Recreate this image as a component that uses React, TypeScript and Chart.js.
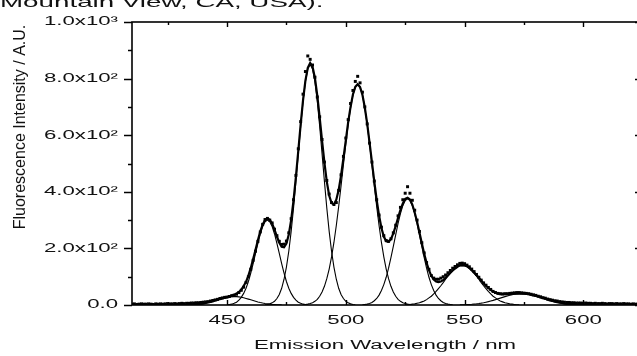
import React, { useEffect, useRef } from 'react';
import { Chart, registerables } from 'chart.js';

Chart.register(...registerables);

// ---- axis values ----
const X_MIN = 410;
const X_MAX = 623;
const X_TICKS = [450, 500, 550, 600];
const X_MINOR_TICKS = [425, 475, 525, 575];
const Y_MIN = 0;
const Y_MAX = 1000;
const Y_TICKS = [0, 200, 400, 600, 800, 1000];
const Y_TICK_LABELS = ['0.0', '2.0x10²', '4.0x10²', '6.0x10²', '8.0x10²', '1.0x10³'];
const Y_MINOR_TICKS = [100, 300, 500, 700, 900];

const X_TITLE = 'Emission Wavelength / nm';
const Y_TITLE = 'Fluorescence Intensity / A.U.';
const CAPTION = 'Mountain View, CA, USA).';

// ---- measured spectrum (1 nm steps from 410 nm) ----
const MEASURED_START = 410;
const MEASURED = [
  3, 4, 2, 3, 4, 3, 3, 4, 3, 2,
  4, 3, 4, 3, 4, 5, 4, 4, 5, 4,
  5, 6, 5, 6, 6, 7, 7, 8, 8, 9,
  10, 11, 12, 14, 16, 18, 20, 23, 25, 27,
  28, 30, 33, 35, 38, 44, 52, 63, 80, 100,
  126, 158, 190, 225, 258, 285, 302, 306, 300, 290,
  268, 245, 225, 214, 215, 226, 255, 305, 372, 458,
  552, 648, 745, 825, 880, 868, 848, 805, 735, 665,
  585, 505, 440, 392, 362, 355, 362, 405, 460, 525,
  590, 655, 712, 758, 790, 808, 785, 752, 700, 640,
  572, 505, 438, 372, 318, 275, 245, 228, 225, 234,
  255, 282, 315, 345, 372, 395, 418, 395, 370, 335,
  300, 260, 220, 184, 150, 126, 104, 95, 91, 91,
  95, 100, 106, 114, 122, 130, 136, 142, 147, 148,
  146, 141, 135, 127, 118, 108, 98, 88, 78, 70,
  62, 55, 48, 44, 41, 40, 39, 40, 40, 41,
  42, 43, 44, 44, 43, 42, 41, 40, 38, 36,
  34, 31, 29, 26, 24, 21, 19, 17, 15, 14,
  12, 11, 10, 9, 9, 8, 8, 7, 7, 7,
  6, 7, 6, 6, 5, 6, 5, 5, 6, 5,
  4, 5, 5, 4, 5, 4, 4, 5, 4, 4,
  3, 4, 3, 3,
];

// ---- overall fit (1 nm steps from 410 nm) ----
const FIT_START = 410;
const FIT = [
  0, 0, 0, 0, 0, 0, 0, 0, 0, 0,
  0, 0, 0, 0, 0, 0, 0, 0, 0, 0,
  0, 0, 0, 1, 1, 1, 2, 2, 3, 4,
  5, 7, 9, 11, 13, 16, 18, 21, 23, 26,
  28, 31, 33, 36, 40, 46, 54, 67, 82, 104,
  131, 162, 195, 229, 260, 284, 300, 306, 301, 287,
  266, 242, 220, 206, 204, 217, 249, 301, 370, 454,
  545, 638, 724, 793, 838, 855, 842, 802, 740, 663,
  581, 503, 436, 387, 360, 355, 372, 407, 458, 519,
  582, 646, 700, 744, 771, 780, 770, 743, 698, 641,
  574, 505, 436, 371, 316, 272, 242, 225, 223, 233,
  253, 279, 308, 336, 359, 375, 379, 373, 355, 327,
  294, 256, 218, 181, 149, 123, 103, 90, 83, 81,
  83, 88, 96, 105, 114, 122, 129, 135, 140, 141,
  140, 137, 131, 124, 115, 106, 96, 86, 76, 68,
  60, 53, 47, 44, 41, 38, 38, 38, 38, 38,
  39, 40, 40, 41, 40, 40, 39, 38, 36, 34,
  32, 30, 27, 24, 22, 19, 16, 14, 12, 10,
  8, 7, 5, 4, 3, 3, 2, 2, 1, 1,
  1, 0, 0, 0, 0, 0, 0, 0, 0, 0,
  0, 0, 0, 0, 0, 0, 0, 0, 0, 0,
  0, 0, 0, 0,
];

// ---- fitted component bands (1 nm steps) ----
const BAND1_START = 433;
const BAND1 = [0.5, 0.8, 1.1, 1.6, 2.2, 3.0, 4.1, 5.3, 6.9, 8.7, 10.8, 13.1, 15.6, 18.2, 20.8, 23.2, 25.5, 27.4, 28.8, 29.7, 30, 29.7, 28.8, 27.4, 25.5, 23.2, 20.8, 18.2, 15.6, 13.1, 10.8, 8.7, 6.9, 5.3, 4.1, 3.0, 2.2, 1.6, 1.1, 0.8, 0.5];
const BAND2_START = 450;
const BAND2 = [1, 2, 3, 6, 10, 17, 27, 41, 59, 83, 113, 146, 182, 218, 251, 277, 294, 300, 294, 277, 251, 218, 182, 146, 113, 83, 59, 41, 27, 17, 10, 6, 3, 2, 1];
const BAND3_START = 466;
const BAND3 = [1, 2, 4, 7.5, 13, 23, 37, 59, 91, 134, 190, 260, 343, 437, 535, 632, 720, 789, 834, 850, 834, 789, 720, 632, 535, 437, 343, 260, 190, 134, 91, 59, 37, 23, 13, 7.5, 4, 2, 1];
const BAND4_START = 482;
const BAND4 = [1, 2, 3, 5, 8, 13, 20, 31, 46, 66, 93, 127, 170, 221, 281, 348, 421, 496, 569, 638, 696, 742, 770, 780, 770, 742, 696, 638, 569, 496, 421, 348, 281, 221, 170, 127, 93, 66, 46, 31, 20, 13, 8, 5, 3, 2, 1];
const BAND5_START = 507;
const BAND5 = [1, 2, 3, 5, 9, 15, 23, 35, 51, 72, 98, 130, 167, 207, 248, 288, 323, 351, 369, 375, 369, 351, 323, 288, 248, 207, 167, 130, 98, 72, 51, 35, 23, 15, 9, 5, 3, 2, 1];
const BAND6_START = 525;
const BAND6 = [1, 1, 2, 3, 4, 6, 8, 11, 14, 19, 25, 31, 39, 48, 58, 68, 79, 91, 102, 112, 121, 129, 135, 139, 140, 139, 135, 129, 121, 112, 102, 91, 79, 68, 58, 48, 39, 31, 25, 19, 14, 11, 8, 6, 4, 3, 2, 1, 1];
const BAND7_START = 548;
const BAND7 = [0.6, 0.8, 1.1, 1.5, 2, 2.6, 3.4, 4.3, 5.4, 6.7, 8.2, 10, 11.9, 14.1, 16.4, 19, 21.6, 24.3, 27, 29.6, 32, 34.3, 36.2, 37.8, 39, 39.8, 40, 39.8, 39, 37.8, 36.2, 34.3, 32, 29.6, 27, 24.3, 21.6, 19, 16.4, 14.1, 11.9, 10, 8.2, 6.7, 5.4, 4.3, 3.4, 2.6, 2, 1.5, 1.1, 0.8, 0.6];

const BANDS: [number, number[]][] = [
  [BAND1_START, BAND1],
  [BAND2_START, BAND2],
  [BAND3_START, BAND3],
  [BAND4_START, BAND4],
  [BAND5_START, BAND5],
  [BAND6_START, BAND6],
  [BAND7_START, BAND7],
];

const toXY = (start: number, arr: number[]) => arr.map((v, i) => ({ x: start + i, y: v }));

const FONT = 'Liberation Sans';
const INK = '#111';
const TEXT_STRETCH = 1.85; // the figure's axis lettering is horizontally widened

const framePlugin = {
  id: 'frameAndText',
  beforeDraw(chart: any) {
    const ctx: any = chart.ctx;
    if (!ctx.__origFillText) ctx.__origFillText = ctx.fillText;
    const orig = ctx.__origFillText;
    ctx.fillText = function (text: string, x: number, y: number) {
      this.save();
      this.translate(x, y);
      this.scale(TEXT_STRETCH, 1);
      orig.call(this, text, 0, 0);
      this.restore();
    };
  },
  afterDraw(chart: any) {
    const { chartArea: a, scales } = chart;
    const ctx: any = chart.ctx;
    const orig = ctx.__origFillText;
    if (orig) ctx.fillText = orig;
    const x = scales.x;
    const y = scales.y;
    ctx.save();
    ctx.strokeStyle = '#000';
    ctx.lineWidth = 1.6;
    ctx.strokeRect(a.left, a.top, a.right - a.left, a.bottom - a.top);
    ctx.lineWidth = 1.4;
    ctx.beginPath();
    for (const v of Y_TICKS) {
      const py = Math.round(y.getPixelForValue(v)) + 0.5;
      ctx.moveTo(a.left - 8, py);
      ctx.lineTo(a.left, py);
      ctx.moveTo(a.right - 3, py);
      ctx.lineTo(a.right, py);
    }
    for (const v of Y_MINOR_TICKS) {
      const py = Math.round(y.getPixelForValue(v)) + 0.5;
      ctx.moveTo(a.left - 4, py);
      ctx.lineTo(a.left, py);
    }
    for (const v of X_TICKS) {
      const px = Math.round(x.getPixelForValue(v)) + 0.5;
      ctx.moveTo(px, a.bottom);
      ctx.lineTo(px, a.bottom - 5);
      ctx.moveTo(px, a.top);
      ctx.lineTo(px, a.top + 5);
    }
    for (const v of X_MINOR_TICKS) {
      const px = Math.round(x.getPixelForValue(v)) + 0.5;
      ctx.moveTo(px, a.bottom);
      ctx.lineTo(px, a.bottom - 3);
      ctx.moveTo(px, a.top);
      ctx.lineTo(px, a.top + 3);
    }
    ctx.stroke();

    // y-axis title
    ctx.save();
    ctx.translate(21, 127);
    ctx.rotate(-Math.PI / 2);
    ctx.font = `16px "${FONT}"`;
    ctx.fillStyle = INK;
    ctx.textAlign = 'center';
    ctx.textBaseline = 'middle';
    ctx.fillText(Y_TITLE, 0, 0);
    ctx.restore();

    // caption cut at the top of the figure
    ctx.save();
    ctx.translate(0, 7);
    ctx.scale(TEXT_STRETCH, 1);
    ctx.font = `15px "${FONT}"`;
    ctx.fillStyle = INK;
    ctx.textAlign = 'left';
    ctx.textBaseline = 'alphabetic';
    ctx.fillText(CAPTION, 0, 0);
    ctx.restore();

    ctx.restore();
  },
};

export default function App() {
  const canvasRef = useRef<HTMLCanvasElement | null>(null);

  useEffect(() => {
    document.body.style.margin = '0';
    document.body.style.overflow = 'hidden';
    const canvas = canvasRef.current;
    if (!canvas) return;

    const bandSets = BANDS.map(([start, arr]) => ({
      type: 'scatter' as const,
      data: toXY(start, arr),
      showLine: true,
      borderColor: '#000',
      borderWidth: 1.1,
      pointRadius: 0,
      fill: false,
      order: 3,
    }));

    const chart = new Chart(canvas, {
      type: 'scatter',
      data: {
        datasets: [
          ...bandSets,
          {
            type: 'scatter',
            data: toXY(FIT_START, FIT),
            showLine: true,
            borderColor: '#000',
            borderWidth: 2.2,
            pointRadius: 0,
            fill: false,
            order: 2,
          },
          {
            type: 'scatter',
            data: toXY(MEASURED_START, MEASURED),
            showLine: false,
            pointStyle: 'rect',
            pointRadius: 2.1,
            pointBorderWidth: 0,
            backgroundColor: '#000',
            borderColor: '#000',
            borderWidth: 0,
            order: 1,
          },
        ] as any,
      },
      options: {
        animation: false,
        responsive: false,
        maintainAspectRatio: false,
        events: [],
        layout: { padding: { left: 0, top: 22, right: 7, bottom: 0 } },
        plugins: {
          legend: { display: false },
          tooltip: { enabled: false },
          title: { display: false },
        },
        scales: {
          x: {
            type: 'linear',
            min: X_MIN,
            max: X_MAX,
            grid: { display: false, drawTicks: false },
            border: { display: false },
            afterBuildTicks: (s: any) => {
              s.ticks = X_TICKS.map((v) => ({ value: v }));
            },
            afterFit: (s: any) => {
              s.height = 51;
            },
            ticks: {
              autoSkip: false,
              maxRotation: 0,
              padding: 8,
              color: INK,
              font: { family: FONT, size: 12 },
              callback: (v: any) => String(v),
            },
            title: {
              display: true,
              text: X_TITLE,
              color: INK,
              font: { family: FONT, size: 12 },
              padding: { top: 0, bottom: 3 },
            },
          },
          y: {
            type: 'linear',
            min: Y_MIN,
            max: Y_MAX,
            grid: { display: false, drawTicks: false },
            border: { display: false },
            afterBuildTicks: (s: any) => {
              s.ticks = Y_TICKS.map((v) => ({ value: v }));
            },
            afterFit: (s: any) => {
              s.width = 132;
            },
            ticks: {
              autoSkip: false,
              padding: 14,
              color: INK,
              font: { family: FONT, size: 12 },
              callback: (v: any) => {
                const i = Y_TICKS.indexOf(Number(v));
                return i >= 0 ? Y_TICK_LABELS[i] : '';
              },
            },
            title: { display: false },
          },
        },
      },
      plugins: [framePlugin as any],
    });

    return () => chart.destroy();
  }, []);

  return (
    <div style={{ width: 637, height: 356, overflow: 'hidden', position: 'relative', background: '#fff' }}>
      <canvas ref={canvasRef} width={645} height={356} style={{ width: 645, height: 356, display: 'block' }} />
    </div>
  );
}
